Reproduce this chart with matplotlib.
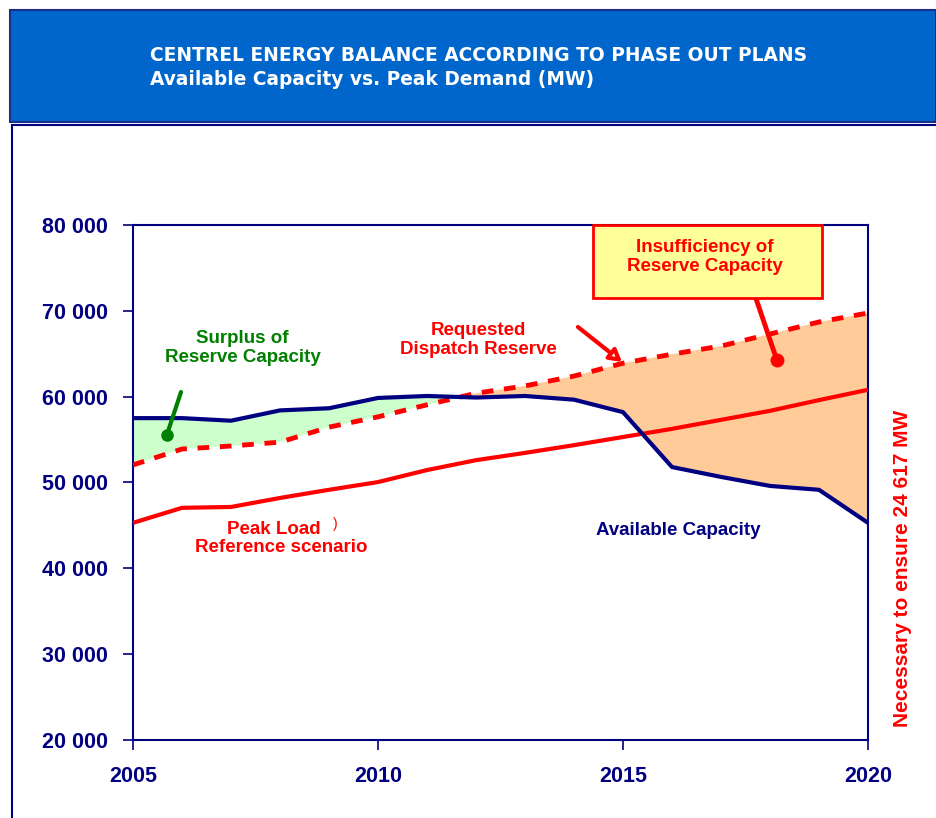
import matplotlib
matplotlib.use("Agg")
import matplotlib.pyplot as plt
import numpy as np
from matplotlib.patches import Rectangle, FancyArrowPatch

years = list(range(2005, 2021))
available = [57500, 57500, 57200, 58400, 58650, 59850, 60080, 59900, 60080,
             59650, 58200, 51800, 50650, 49600, 49150, 45300]
reserve = [52050, 53900, 54250, 54700, 56450, 57650, 59050, 60400, 61250,
           62400, 63900, 64950, 65900, 67300, 68700, 69750]
peak = [45300, 47050, 47150, 48200, 49150, 50050, 51450, 52600, 53450,
        54350, 55300, 56250, 57300, 58350, 59600, 60800]
ytick_vals = [20000, 30000, 40000, 50000, 60000, 70000, 80000]
ytick_labels = ["20 000", "30 000", "40 000", "50 000", "60 000", "70 000", "80 000"]
xtick_vals = [2005, 2010, 2015, 2020]

NAVY = "#000080"
RED = "#FF0000"
W, H = 936, 818

fig = plt.figure(figsize=(W / 100, H / 100), dpi=100)
fig.patch.set_facecolor("white")

def fx(x):
    return x / W

def fy(y):
    return 1 - y / H

# header box
fig.patches.append(Rectangle((fx(10), fy(122)), fx(936 - 10), (122 - 10) / H,
                             transform=fig.transFigure, facecolor="#0066CC",
                             edgecolor="#1A2E8C", lw=1.5, zorder=-1))
fig.text(fx(150), fy(55.5), "CENTREL ENERGY BALANCE ACCORDING TO PHASE OUT PLANS",
         color="white", fontsize=13.4, fontweight="bold", family="DejaVu Sans",
         va="center", ha="left")
fig.text(fx(150), fy(79.5), "Available Capacity vs. Peak Demand (MW)",
         color="white", fontsize=13.4, fontweight="bold", family="DejaVu Sans",
         va="center", ha="left")
# frame box
fig.patches.append(Rectangle((fx(12), fy(820)), fx(936 - 12 + 5), (820 - 125) / H,
                             transform=fig.transFigure, facecolor="none",
                             edgecolor=NAVY, lw=1.5, zorder=-1))

ax = fig.add_axes([fx(133), fy(740), fx(868 - 133), (740 - 225) / H])
ax.set_xlim(2005, 2020)
ax.set_ylim(20000, 80000)

yrs = np.array(years)
av = np.array(available)
rs = np.array(reserve)
pk = np.array(peak)

ax.fill_between(yrs, av, rs, where=av >= rs, interpolate=True,
                facecolor="#CCFFCC", edgecolor="none", zorder=1)
ax.fill_between(yrs, av, rs, where=rs >= av, interpolate=True,
                facecolor="#FFCC99", edgecolor="none", zorder=1)

ax.plot(yrs, pk, color=RED, lw=3, zorder=3, solid_capstyle="butt")
ax.plot(yrs, rs, color=RED, lw=3.5, dashes=(2.4, 2.2), zorder=3)
ax.plot(yrs, av, color=NAVY, lw=3, zorder=4)

for s in ax.spines.values():
    s.set_color(NAVY)
    s.set_linewidth(1.5)

ax.set_yticks(ytick_vals)
ax.set_yticklabels(ytick_labels)
ax.set_xticks(xtick_vals)
ax.set_xticklabels([str(v) for v in xtick_vals])
ax.tick_params(axis="both", colors=NAVY, direction="out", length=7, width=1.2,
               labelsize=15.5)
ax.tick_params(axis="y", pad=11)
ax.tick_params(axis="x", pad=12)
for lbl in ax.get_xticklabels() + ax.get_yticklabels():
    lbl.set_fontweight("bold")
    lbl.set_family("Liberation Sans")
    lbl.set_color(NAVY)

tfont = dict(family="Liberation Sans", fontweight="bold", fontsize=13.5)

# Surplus annotation
ax.text(2007.24, 65680, "Surplus of\nReserve Capacity", color="#008000",
        ha="center", va="center", linespacing=1.15, zorder=6, **tfont)
ax.plot([2005.98, 2005.69], [60545, 55535], color="#008000", lw=3,
        solid_capstyle="round", zorder=6)
ax.plot([2005.69], [55535], "o", color="#008000", ms=8, zorder=6)

# Requested reserve annotation
ax.text(2012.04, 66600, "Requested\nDispatch Reserve", color=RED,
        ha="center", va="center", linespacing=1.15, zorder=6, **tfont)
arr = FancyArrowPatch((2014.08, 68120), (2014.98, 64040),
                      arrowstyle="-|>,head_length=7,head_width=4",
                      facecolor="white", edgecolor=RED, lw=3, zorder=6,
                      mutation_scale=1, shrinkA=0, shrinkB=0)
ax.add_patch(arr)

# Insufficiency box
ax.add_patch(Rectangle((2014.39, 71500), 2019.06 - 2014.39, 80000 - 71500,
                       facecolor="#FFFF99", edgecolor=RED, lw=2, zorder=7,
                       clip_on=False))
ax.text(2016.67, 76280, "Insufficiency of\nReserve Capacity", color=RED,
        ha="center", va="center", linespacing=1.15, zorder=8, **tfont)
ax.plot([2017.71, 2018.14], [71500, 64270], color=RED, lw=3.5,
        solid_capstyle="round", zorder=6)
ax.plot([2018.14], [64270], "o", color=RED, ms=9, zorder=6)

# Peak load
ax.text(2007.88, 44480, "Peak Load", color=RED, ha="center", va="center",
        zorder=6, **tfont)
ax.text(2009.12, 45150, ")", color=RED, ha="center", va="center",
        family="Liberation Sans", fontsize=10, zorder=6)
ax.text(2008.02, 42380, "Reference scenario", color=RED, ha="center",
        va="center", zorder=6, **tfont)

ax.text(2016.12, 44360, "Available Capacity", color=NAVY, ha="center",
        va="center", zorder=6, **tfont)

fig.text(fx(903), fy(568), "Necessary to ensure 24 617 MW", color=RED,
         rotation=90, ha="center", va="center", family="Liberation Sans",
         fontweight="bold", fontsize=15)

fig.savefig("out.png", dpi=100)
